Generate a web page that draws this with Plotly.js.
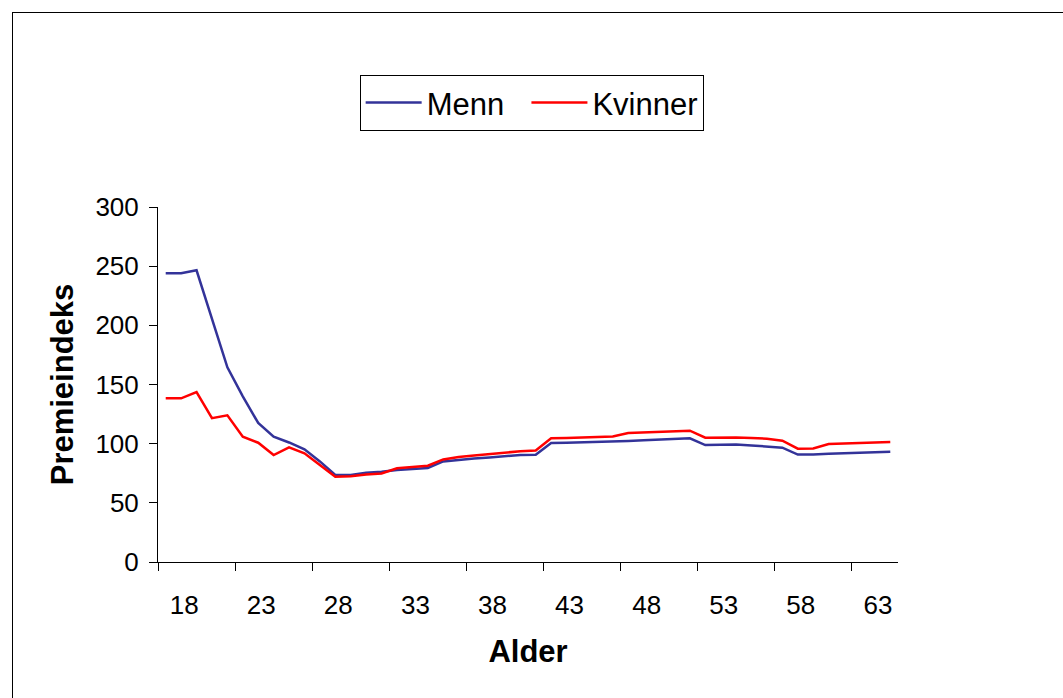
<!DOCTYPE html>
<html>
<head>
<meta charset="utf-8">
<script src="https://cdn.plot.ly/plotly-3.0.1.min.js"></script>
<style>
  html, body { margin: 0; padding: 0; background: #fff; overflow: hidden; }
  #wrap { position: relative; width: 1063px; height: 698px; overflow: hidden; }
  #chart { position: absolute; left: 0; top: 0; width: 1063px; height: 698px; }
  #frame { position: absolute; left: 12px; top: 12px; width: 1200px; height: 800px;
           border-left: 1px solid #000; border-top: 1px solid #000; pointer-events: none; }
</style>
</head>
<body>
<div id="wrap">
  <div id="chart"></div>
  <div id="frame"></div>
</div>
<script>
// Premium index by age
const ages = [17, 18, 19, 20, 21, 22, 23, 24, 25, 26, 27, 28, 29, 30, 31, 32,
              33, 34, 35, 36, 37, 38, 39, 40, 41, 42, 43, 44, 45, 46, 47, 48,
              49, 50, 51, 52, 53, 54, 55, 56, 57, 58, 59, 60, 61, 62, 63, 64];

const menn = [244, 244, 246.5, 205, 164.5, 140, 117.5, 106, 101, 95.2, 85, 73.5,
              73.5, 75.5, 76.3, 77.8, 78.9, 79.5, 85, 86.5, 87.4, 88.4, 89.5, 90.5,
              90.7, 100.5, 100.8, 101, 101.4, 101.8, 102.2, 102.8, 103.3, 103.9, 104.5, 98.8,
              99.2, 99.4, 98.5, 97.8, 96.6, 90.8, 90.8, 91.5, 91.9, 92.4, 92.8, 93.2];

const kvinner = [138.3, 138.3, 143.6, 121.6, 123.9, 105.9, 100.8, 90.4, 96.9, 91.8, 82, 72,
                 72.4, 74, 74.8, 79.2, 80.2, 81.4, 86.7, 88.7, 90, 91.3, 92.5, 93.6,
                 94.3, 104.5, 104.8, 105, 105.5, 106, 109, 109.5, 110, 110.5, 111, 105,
                 105.3, 105.3, 104.8, 104.2, 102.5, 95.8, 95.9, 99.7, 100.1, 100.5, 101, 101.4];

// Category axis: a label every fifth age, tick marks on the category boundaries
const labelAges = ages.filter((a, i) => i % 5 === 1);
const boundaries = ages.filter((a, i) => i % 5 === 0).map(a => a - 0.5);

const FONT = 'Liberation Sans, Arial, sans-serif';
const GAP = '\u00a0\u00a0';   // spacing after the first legend entry

const traces = [
  { x: ages, y: menn, name: 'Menn' + GAP, type: 'scatter', mode: 'lines',
    line: { color: '#333399', width: 2.5 } },
  { x: ages, y: kvinner, name: 'Kvinner', type: 'scatter', mode: 'lines',
    line: { color: '#ff0000', width: 2.5 } }
];

const layout = {
  width: 1063, height: 698,
  margin: { l: 158, r: 164.5, t: 207, b: 135.5, pad: 0 },
  paper_bgcolor: '#ffffff',
  plot_bgcolor: '#ffffff',
  font: { family: FONT, color: '#000' },
  showlegend: true,
  legend: {
    orientation: 'h',
    x: 0.2725, y: 1.372, xanchor: 'left', yanchor: 'top',
    bordercolor: '#000', borderwidth: 1,
    font: { family: FONT, size: 31, color: '#000' },
    itemwidth: 56
  },
  xaxis: {
    range: [ages[0] - 0.5, ages[ages.length - 1] + 0.5],
    tickmode: 'array', tickvals: labelAges, ticktext: labelAges.map(String),
    ticks: '', showgrid: false, zeroline: false,
    showline: true, linecolor: '#000', linewidth: 1,
    tickfont: { family: FONT, size: 26, color: '#000' },
    ticklabelshift: 3, ticklabelstandoff: 20,
    minor: { tickmode: 'array', tickvals: boundaries, ticks: 'outside',
             ticklen: 8, tickwidth: 1, tickcolor: '#000', showgrid: false },
    title: { text: 'Alder', font: { family: FONT, size: 31, color: '#000', weight: 'bold' },
             standoff: 21 }
  },
  yaxis: {
    range: [0, 300], tickmode: 'linear', tick0: 0, dtick: 50,
    ticks: 'outside', ticklen: 8, tickwidth: 1, tickcolor: '#000',
    showgrid: false, zeroline: false,
    showline: true, linecolor: '#000', linewidth: 1,
    tickfont: { family: FONT, size: 26, color: '#000' },
    ticklabelstandoff: 5,
    title: { text: 'Premieindeks', font: { family: FONT, size: 31, color: '#000', weight: 'bold' },
             standoff: 12 }
  }
};

Plotly.newPlot('chart', traces, layout, { staticPlot: true, displayModeBar: false });
</script>
</body>
</html>
